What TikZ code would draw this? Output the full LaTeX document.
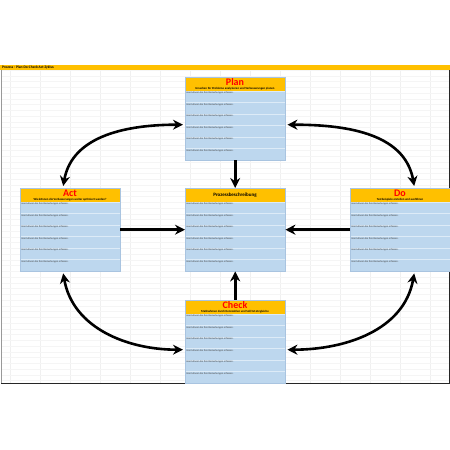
\documentclass[tikz,border=0pt]{standalone}
\usepackage{fontspec}
\setmainfont{Carlito}
\usetikzlibrary{arrows.meta}
\definecolor{hdr}{HTML}{FFC000}
\definecolor{rowblue}{HTML}{BDD7EE}
\definecolor{rowline}{HTML}{DDEBF7}
\definecolor{boxedge}{HTML}{A9C4E0}
\definecolor{titlered}{HTML}{FF0000}
\tikzset{
  rowtext/.style={anchor=north west, inner sep=0pt, font=\fontsize{2.6}{3}\selectfont, text=black!75},
  subtext/.style={inner sep=0pt, font=\fontsize{3}{3.5}\selectfont\bfseries},
  bigtitle/.style={inner sep=0pt, font=\fontsize{10}{10}\selectfont\bfseries, text=titlered},
  proctitle/.style={inner sep=0pt, yshift=-1.5pt, font=\fontsize{5}{5}\selectfont\bfseries},
  boxframe/.style={draw=boxedge, line width=0.4pt, minimum width=100pt, minimum height=83pt, inner sep=0pt},
  pdarrow/.style={line width=2.6pt, -{Stealth[length=10pt,width=10pt]}},
  pdarc/.style={line width=2.6pt, {Stealth[length=10pt,width=10pt]}-{Stealth[length=10pt,width=10pt]}},
}
\newcommand\pdcbox[6]{%
  \fill[hdr] (#2,#3) rectangle (#2+100,#3-14);
  \fill[rowblue] (#2,#3-14) rectangle (#2+100,#3-83);
  \foreach \i in {0,...,5}{
    \draw[rowline,line width=0.4pt] (#2,#3-14-11.5*\i) -- (#2+100,#3-14-11.5*\i);
    \node[rowtext] at (#2+1.5,#3-14.8-11.5*\i) {Hier können Sie Ihre Bemerkungen erfassen.};
  }
  \node[#6] at (#2+50,#3-5.5) {#4};
  \node[subtext] at (#2+50,#3-12) {#5};
  \node[boxframe, anchor=north west] (#1) at (#2,#3) {};
}
\begin{document}
\begin{tikzpicture}[x=1pt,y=1pt]
\useasboundingbox (0,0) rectangle (450,450);
\fill[white] (0,0) rectangle (450,450);
% spreadsheet grid
\foreach \gx in {10,40,...,440} \draw[black!6,line width=0.3pt] (\gx,66) -- (\gx,380);
\foreach \gy in {0,...,54} \draw[black!4,line width=0.3pt] (1,380-5.75*\gy) -- (449,380-5.75*\gy);
% title bar
\fill[hdr] (0,385) rectangle (450,380);
\node[anchor=west, inner sep=0pt, font=\fontsize{3.6}{4}\selectfont\bfseries] (ttl) at (2,382.5) {Prozess - Plan-Do-Check-Act-Zyklus};
% border
\draw[black!40, line width=0.5pt] (1,380) -- (1,66);
\draw[black!85, line width=1pt] (1,66) -- (449,66) -- (449,380);
% boxes
\pdcbox{plan}{185}{373}{Plan}{Ursachen für Probleme analysieren und Verbesserungen planen}{bigtitle}
\pdcbox{act}{20}{262}{Act}{Wie können die Verbesserungen weiter optimiert werden?}{bigtitle}
\pdcbox{proc}{185}{262}{Prozessbeschreibung}{}{proctitle}
\pdcbox{do}{350}{262}{Do}{Testbeispiele erstellen und ausführen}{bigtitle}
\pdcbox{check}{185}{150}{Check}{Maßnahmen durch Kennzahlen und Soll/Ist-Vergleiche}{bigtitle}
% straight arrows
\draw[pdarrow] (plan.south) -- (proc.north);
\draw[pdarrow] (act.east) -- (proc.west);
\draw[pdarrow] (do.west) -- (proc.east);
\draw[pdarrow] (check.north) -- (proc.south);
% curved arrows
\draw[pdarc] ([xshift=-7pt,yshift=2pt]act.north) to[out=80,in=180] ([xshift=-2pt,yshift=-6pt]plan.west);
\draw[pdarc] ([xshift=2pt,yshift=-6pt]plan.east) to[out=0,in=100] ([xshift=14pt,yshift=2pt]do.north);
\draw[pdarc] ([xshift=-7pt,yshift=-2pt]act.south) to[out=-80,in=180] ([xshift=-2pt,yshift=-8pt]check.west);
\draw[pdarc] ([xshift=2pt,yshift=-8pt]check.east) to[out=0,in=-100] ([xshift=14pt,yshift=-2pt]do.south);
\end{tikzpicture}
\end{document}
